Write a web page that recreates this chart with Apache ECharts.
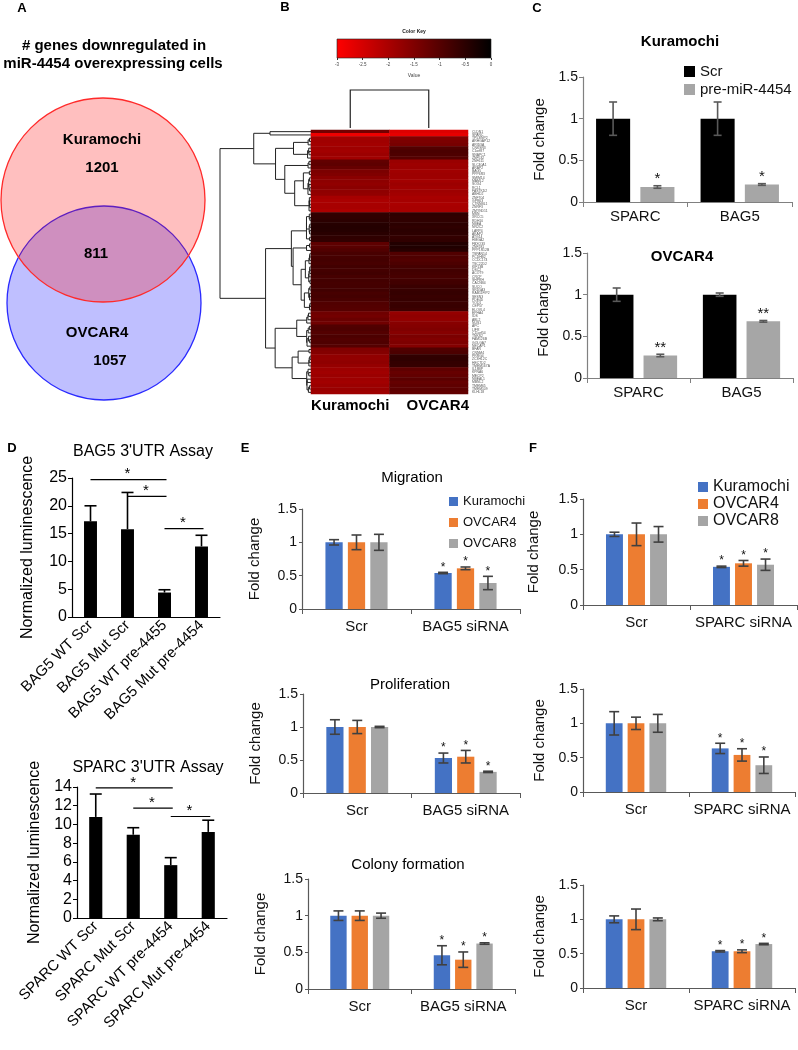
<!DOCTYPE html>
<html><head><meta charset="utf-8">
<script src="https://cdn.jsdelivr.net/npm/echarts@6/dist/echarts.min.js"></script>
<style>html,body{margin:0;padding:0;background:#fff}#c{width:798px;height:1050px}</style>
</head><body><div id="c"></div>
<script>
// ---------------- DATA ----------------
// Panel A (Venn)
const vennTitleLines = ['# genes downregulated in', 'miR-4454 overexpressing cells'];
const vennSetNames = ['Kuramochi', 'OVCAR4'];
const vennCounts = [1201, 811, 1057]; // Kuramochi only, shared, OVCAR4 only

// Panel B (heatmap)
const heatCols = ['Kuramochi', 'OVCAR4'];
const geneNames = ['CLDN1','SPARC','TP53INP2','ARHGAP12','ARID3A','CNKSR3','C1orf87','SNAPC1','ZNF532','ZNF611',
 'SLC40A1','ARAP2','BAG5','PPP6R3','SMIM14','MAML2','SOX4','RCL1','FASTKD2','ABHD2',
 'ZNF704','GPR63','CTNNBL1','ZNRF3','ZMYND11','MSN','XRCC5','RDH10','NBEA','NR2C2',
 'LARP4','AKAP2','ATG14','HMGA2','FBXO33','ZNF281','PPP1R12B','TSPAN14','PCDHB2','CCDC174',
 'TSC22D2','KIF13B','DSC2','ACOT9','CRCP','SHPRH','CACNB4','SUCO','SRD5A3','RAB11FIP2',
 'SESN3','PDE4D','YOD1','CEP57','ELOVL4','EPHA4','IDS','ABL2','NUS1','APC',
 'LIFR','C11orf54','TNKS2','FAM126B','GOLGA7','NECAP1','BFAR','CNNM4','PRRG4','ZC3H12C',
 'HECTD2','TMEM167A','IL18BP','KPNA6','MECP2','NBEAL1','MBNL2','TMEM65','TMEM109','KLHL18'];
const kuraHeat = [-1.35,-2.80,-1.90,-1.88,-1.92,-1.86,-1.90,-1.84,-1.88,-1.15,
 -1.10,-1.20,-1.45,-1.50,-1.62,-1.66,-1.70,-1.64,-1.68,-1.72,
 -1.95,-2.00,-1.98,-1.96,-2.02,-0.58,-0.55,-0.52,-0.45,-0.42,
 -0.44,-0.48,-0.55,-0.58,-1.10,-1.05,-0.95,-0.85,-0.82,-0.80,
 -0.84,-0.78,-0.80,-0.76,-0.82,-0.79,-0.81,-0.80,-0.77,-0.83,
 -0.80,-0.85,-0.95,-0.98,-1.00,-1.30,-1.35,-1.25,-1.32,-0.95,
 -0.92,-0.98,-0.90,-0.95,-0.93,-1.00,-1.50,-1.55,-1.70,-1.72,
 -1.68,-1.75,-1.85,-1.88,-1.82,-1.86,-1.90,-1.84,-1.80,-1.86];
const ovcarHeat = [-2.60,-2.70,-1.50,-1.45,-1.40,-0.95,-0.88,-0.92,-1.00,-1.80,
 -1.85,-1.82,-1.88,-1.85,-1.86,-1.90,-1.84,-1.88,-1.86,-1.90,
 -1.98,-1.95,-2.00,-1.96,-1.98,-0.55,-0.58,-0.56,-0.52,-0.55,
 -0.50,-0.53,-0.60,-0.56,-0.40,-0.38,-0.45,-0.95,-0.92,-0.96,
 -0.90,-0.82,-0.78,-0.80,-0.84,-0.79,-0.76,-0.68,-0.65,-0.62,
 -0.66,-0.64,-0.68,-0.66,-0.70,-1.75,-1.68,-1.72,-1.60,-1.55,
 -1.50,-1.58,-1.45,-1.52,-1.48,-1.55,-0.95,-0.90,-0.58,-0.55,
 -0.60,-0.62,-1.10,-1.20,-1.15,-1.05,-1.18,-1.12,-1.08,-1.15];
const colorKeyRange = [-3, 0];

// Panel C (qPCR)
const cCats = ['SPARC', 'BAG5'];
const cGroups = ['Scr', 'pre-miR-4454'];
const kuraScr = [1.00, 1.00], kuraScrErr = [0.20, 0.20];
const kuraPre = [0.18, 0.21], kuraPreErr = [0.015, 0.01];
const kuraStars = ['*', '*'];
const ovcScr = [1.00, 1.00], ovcScrErr = [0.08, 0.02];
const ovcPre = [0.27, 0.68], ovcPreErr = [0.015, 0.01];
const ovcStars = ['**', '**'];

// Panel D (3'UTR luciferase)
const bagCats = ['BAG5 WT Scr', 'BAG5 Mut Scr', 'BAG5 WT pre-4455', 'BAG5 Mut pre-4454'];
const bagLum = [17.2, 15.8, 4.4, 12.7];
const bagLumErr = [2.8, 6.6, 0.5, 2.0];
const bagSig = [[0, 2, 24.7], [1, 2, 21.7], [2, 3, 15.9]];
const sparcCats = ['SPARC WT Scr', 'SPARC Mut Scr', 'SPARC WT pre-4454', 'SPARC Mut pre-4454'];
const sparcLum = [10.8, 8.9, 5.65, 9.2];
const sparcLumErr = [2.45, 0.75, 0.8, 1.25];
const sparcSig = [[0, 2, 13.9], [1, 2, 11.75], [2, 3, 10.85]];

// Panels E / F (functional assays) - rows: Kuramochi, OVCAR4, OVCAR8 ; cols: Scr, siRNA
const cellLines = ['Kuramochi', 'OVCAR4', 'OVCAR8'];
const eCats = ['Scr', 'BAG5 siRNA'];
const fCats = ['Scr', 'SPARC siRNA'];
const siStars = ['', '*'];
const migBag = [[1.00, 0.54], [1.00, 0.61], [1.00, 0.39]];
const migBagErr = [[0.04, 0.01], [0.11, 0.02], [0.12, 0.10]];
const proBag = [[1.00, 0.53], [1.00, 0.55], [1.00, 0.32]];
const proBagErr = [[0.11, 0.075], [0.10, 0.095], [0.01, 0.01]];
const colBag = [[1.00, 0.46], [1.00, 0.40], [1.00, 0.62]];
const colBagErr = [[0.065, 0.13], [0.065, 0.105], [0.035, 0.01]];
const migSparc = [[1.00, 0.54], [1.00, 0.59], [1.00, 0.57]];
const migSparcErr = [[0.03, 0.01], [0.16, 0.04], [0.11, 0.08]];
const proSparc = [[1.00, 0.635], [1.00, 0.54], [1.00, 0.39]];
const proSparcErr = [[0.17, 0.075], [0.09, 0.09], [0.13, 0.12]];
const colSparc = [[1.00, 0.535], [1.00, 0.535], [1.00, 0.64]];
const colSparcErr = [[0.05, 0.01], [0.15, 0.02], [0.02, 0.01]];

// ---------------- BUILD ----------------
const FONT = '"Liberation Sans", Arial, Helvetica, sans-serif';
const grids = [], xAxes = [], yAxes = [], series = [], graphics = [], legends = [];
function addGrid(r) { grids.push({left: r.left, top: r.top, width: r.width, height: r.height}); return grids.length - 1; }
function txt(text, x, y, size, bold, align, color) {
  graphics.push({type: 'text', silent: true, z: 10, style: {text: String(text), x: x, y: y,
    font: (bold ? 'bold ' : '') + size + 'px ' + FONT, fill: color || '#000',
    textAlign: align || 'center', align: align || 'center', textVerticalAlign: 'middle', verticalAlign: 'middle'}});
}

function makeErr(n, i, catGap, barGap, cap, color, oneSided, stars, starFs) {
  return function (params, api) {
    const cat = api.value(0), v = api.value(1), e = api.value(2);
    const band = api.size([1, 0])[0];
    const w = band * (1 - catGap) / (n + (n - 1) * barGap);
    const total = n * w + (n - 1) * barGap * w;
    const x = api.coord([cat, v])[0] - total / 2 + w / 2 + i * w * (1 + barGap);
    const yT = api.coord([cat, v + e])[1];
    const yB = oneSided ? api.coord([cat, v])[1] : api.coord([cat, v - e])[1];
    const st = {stroke: color, lineWidth: 1.6};
    const ch = [
      {type: 'line', shape: {x1: x, y1: yT, x2: x, y2: yB}, style: st},
      {type: 'line', shape: {x1: x - cap, y1: yT, x2: x + cap, y2: yT}, style: st}
    ];
    if (!oneSided) ch.push({type: 'line', shape: {x1: x - cap, y1: yB, x2: x + cap, y2: yB}, style: st});
    const s = stars && stars[params.dataIndex];
    if (s) ch.push({type: 'text', style: {text: s, x: x, y: yT + 1, textAlign: 'center', align: 'center',
      textVerticalAlign: 'bottom', verticalAlign: 'bottom', font: starFs + 'px ' + FONT, fill: '#111'}});
    return {type: 'group', children: ch};
  };
}

function barPanel(cfg) {
  const g = addGrid(cfg.rect);
  xAxes.push({type: 'category', gridIndex: g, data: cfg.cats,
    axisLine: {show: true, lineStyle: {color: cfg.axisColor, width: 1.2}},
    axisTick: {show: cfg.xTicks, length: 5, lineStyle: {color: cfg.axisColor}},
    axisLabel: {interval: 0, fontSize: cfg.xfs, color: cfg.textColor, fontFamily: FONT, margin: cfg.xMargin, rotate: cfg.rotate || 0},
    splitLine: {show: false}});
  yAxes.push({type: 'value', gridIndex: g, min: 0, max: cfg.max, interval: cfg.interval,
    axisLine: {show: true, lineStyle: {color: cfg.axisColor, width: 1.2}},
    axisTick: {show: true, length: cfg.yTickLen, lineStyle: {color: cfg.axisColor}},
    axisLabel: {fontSize: cfg.yfs, color: cfg.textColor, fontFamily: FONT, margin: 5},
    splitLine: {show: false},
    name: cfg.yName, nameLocation: 'middle', nameGap: cfg.nameGap,
    nameTextStyle: {fontSize: cfg.nameFs, color: cfg.textColor, fontFamily: FONT}});
  const n = cfg.series.length;
  cfg.series.forEach(function (s, i) {
    series.push({type: 'bar', name: s.name, xAxisIndex: g, yAxisIndex: g, data: s.values,
      barCategoryGap: (cfg.catGap * 100) + '%', barGap: (cfg.barGap * 100) + '%',
      itemStyle: {color: s.color}, silent: true, animation: false});
    series.push({type: 'custom', xAxisIndex: g, yAxisIndex: g, z: 5, silent: true, animation: false,
      data: s.values.map(function (v, k) { return [k, v, s.errs[k]]; }),
      renderItem: makeErr(n, i, cfg.catGap, cfg.barGap, cfg.cap, cfg.errColor, cfg.oneSided, s.stars, cfg.starFs)});
  });
  if (cfg.sig) {
    series.push({type: 'custom', xAxisIndex: g, yAxisIndex: g, z: 6, silent: true, animation: false, data: cfg.sig,
      renderItem: function (p, api) {
        const a = api.coord([api.value(0), api.value(2)]);
        const b = api.coord([api.value(1), api.value(2)]);
        return {type: 'group', children: [
          {type: 'line', shape: {x1: a[0], y1: a[1], x2: b[0] + 2, y2: b[1]}, style: {stroke: '#000', lineWidth: 1.2}},
          {type: 'text', style: {text: '*', x: (a[0] + b[0]) / 2, y: a[1] + 2, textAlign: 'center', align: 'center',
            textVerticalAlign: 'bottom', verticalAlign: 'bottom', font: '15px ' + FONT, fill: '#000'}}
        ]};
      }});
  }
  return g;
}

// ---- Panel C
const cBase = {max: 1.5, interval: 0.5, cats: cCats, catGap: 0.25, barGap: 0.3, cap: 4, errColor: '#595959',
  axisColor: '#808080', textColor: '#111', xfs: 15, yfs: 14, nameFs: 15, yName: 'Fold change', nameGap: 36,
  xTicks: true, xMargin: 7, starFs: 15, yTickLen: 4};
barPanel(Object.assign({}, cBase, {rect: {left: 583, top: 77, width: 209, height: 125},
  series: [{name: cGroups[0], values: kuraScr, errs: kuraScrErr, color: '#000000'},
           {name: cGroups[1], values: kuraPre, errs: kuraPreErr, color: '#a6a6a6', stars: kuraStars}]}));
barPanel(Object.assign({}, cBase, {rect: {left: 587, top: 253, width: 206, height: 125},
  series: [{name: cGroups[0], values: ovcScr, errs: ovcScrErr, color: '#000000'},
           {name: cGroups[1], values: ovcPre, errs: ovcPreErr, color: '#a6a6a6', stars: ovcStars}]}));

// ---- Panel D
const dBase = {catGap: 0.65, barGap: 0, cap: 6, errColor: '#000', axisColor: '#000', textColor: '#000', xfs: 15, yfs: 16,
  nameFs: 16, yName: 'Normalized luminescence', xTicks: false, xMargin: 6, rotate: 45, oneSided: true, starFs: 14, yTickLen: 4};
barPanel(Object.assign({}, dBase, {rect: {left: 72, top: 478, width: 148, height: 139}, max: 25, interval: 5, cats: bagCats,
  nameGap: 36, sig: bagSig, series: [{name: "BAG5 3'UTR", values: bagLum, errs: bagLumErr, color: '#000'}]}));
barPanel(Object.assign({}, dBase, {rect: {left: 77, top: 787, width: 150, height: 131}, max: 14, interval: 2, cats: sparcCats,
  nameGap: 34, sig: sparcSig, series: [{name: "SPARC 3'UTR", values: sparcLum, errs: sparcLumErr, color: '#000'}]}));

// ---- Panels E / F
const lineColors = ['#4472c4', '#ed7d31', '#a5a5a5'];
const efBase = {max: 1.5, interval: 0.5, catGap: 0.43, barGap: 0.3, cap: 5, errColor: '#404040', axisColor: '#595959',
  textColor: '#111', xfs: 15, yfs: 14, nameFs: 15, yName: 'Fold change', xTicks: true, xMargin: 10, starFs: 12, yTickLen: 3};
function efSeries(vals, errs) {
  return cellLines.map(function (name, i) { return {name: name, values: vals[i], errs: errs[i], color: lineColors[i], stars: siStars}; });
}
barPanel(Object.assign({}, efBase, {rect: {left: 302, top: 509, width: 218, height: 100}, cats: eCats, nameGap: 40, series: efSeries(migBag, migBagErr)}));
barPanel(Object.assign({}, efBase, {rect: {left: 303, top: 694, width: 217, height: 99}, cats: eCats, nameGap: 40, series: efSeries(proBag, proBagErr)}));
barPanel(Object.assign({}, efBase, {rect: {left: 308, top: 879, width: 207, height: 110}, cats: eCats, nameGap: 40, series: efSeries(colBag, colBagErr)}));
barPanel(Object.assign({}, efBase, {rect: {left: 583, top: 499, width: 214, height: 106}, cats: fCats, nameGap: 42, series: efSeries(migSparc, migSparcErr)}));
barPanel(Object.assign({}, efBase, {rect: {left: 583, top: 689, width: 212, height: 103}, cats: fCats, nameGap: 36, series: efSeries(proSparc, proSparcErr)}));
barPanel(Object.assign({}, efBase, {rect: {left: 583, top: 885, width: 212, height: 103}, cats: fCats, nameGap: 36, series: efSeries(colSparc, colSparcErr)}));

// ---- Panel B : heatmap
const gH = addGrid({left: 311, top: 130, width: 157, height: 264});
xAxes.push({type: 'category', gridIndex: gH, data: heatCols, axisLine: {show: false}, axisTick: {show: false},
  axisLabel: {interval: 0, hideOverlap: false, fontSize: 15, fontWeight: 'bold', color: '#000', fontFamily: FONT, margin: 4,
    formatter: function (v, i) { return i === 1 ? '{r|' + v + '}' : v; },
    rich: {r: {fontSize: 15, fontWeight: 'bold', color: '#000', fontFamily: FONT, padding: [0, 0, 0, 18]}}},
  splitLine: {show: false}});
yAxes.push({type: 'category', gridIndex: gH, data: geneNames, inverse: true, position: 'right',
  axisLine: {show: false}, axisTick: {show: false},
  axisLabel: {interval: 0, fontSize: 3.4, color: '#555', margin: 4, fontFamily: FONT}, splitLine: {show: false}});
const heatData = [];
geneNames.forEach(function (g, r) { heatData.push([0, r, kuraHeat[r]]); heatData.push([1, r, ovcarHeat[r]]); });
series.push({type: 'heatmap', xAxisIndex: gH, yAxisIndex: gH, data: heatData, silent: true, animation: false});
const heatSeriesIndex = series.length - 1;

// row dendrogram (complete linkage, order-constrained)
const rowVecs = kuraHeat.map(function (k, i) { return [k, ovcarHeat[i]]; });
function dist(a, b) { let s = 0; for (let i = 0; i < a.length; i++) { const d = a[i] - b[i]; s += d * d; } return Math.sqrt(s); }
let clusters = rowVecs.map(function (v, i) { return {m: [i], pos: i, h: 0}; });
const links = [];
while (clusters.length > 1) {
  let best = -1, bd = Infinity;
  for (let j = 0; j < clusters.length - 1; j++) {
    let d = 0;
    for (const a of clusters[j].m) for (const b of clusters[j + 1].m) d = Math.max(d, dist(rowVecs[a], rowVecs[b]));
    if (d < bd) { bd = d; best = j; }
  }
  const A = clusters[best], B = clusters[best + 1];
  const h = Math.max(bd, A.h, B.h);
  links.push([A.pos, B.pos, h, A.h, B.h]);
  clusters.splice(best, 2, {m: A.m.concat(B.m), pos: (A.pos + B.pos) / 2, h: h});
}
const rootH = clusters[0].h;
const gD = addGrid({left: 220, top: 130, width: 91, height: 264});
xAxes.push({type: 'value', gridIndex: gD, min: 0, max: rootH, inverse: true, show: false});
yAxes.push({type: 'value', gridIndex: gD, min: -0.5, max: geneNames.length - 0.5, inverse: true, show: false});
series.push({type: 'custom', xAxisIndex: gD, yAxisIndex: gD, data: links, silent: true, animation: false,
  renderItem: function (p, api) {
    const a = api.value(0), b = api.value(1), h = api.value(2), ha = api.value(3), hb = api.value(4);
    return {type: 'polyline', shape: {points: [api.coord([ha, a]), api.coord([h, a]), api.coord([h, b]), api.coord([hb, b])]},
      style: {stroke: '#222', lineWidth: 1, fill: null}};
  }});
// column dendrogram
const colH = dist(kuraHeat, ovcarHeat);
const gCD = addGrid({left: 311, top: 90, width: 157, height: 38});
xAxes.push({type: 'value', gridIndex: gCD, min: -0.5, max: 1.5, show: false});
yAxes.push({type: 'value', gridIndex: gCD, min: 0, max: colH, show: false});
series.push({type: 'custom', xAxisIndex: gCD, yAxisIndex: gCD, data: [[0, 1, colH]], silent: true, animation: false,
  renderItem: function (p, api) {
    const a = api.value(0), b = api.value(1), h = api.value(2);
    return {type: 'polyline', shape: {points: [api.coord([a, 0]), api.coord([a, h]), api.coord([b, h]), api.coord([b, 0])]},
      style: {stroke: '#222', lineWidth: 1.2, fill: null}};
  }});
// color key
const gK = addGrid({left: 337, top: 39, width: 154, height: 19});
xAxes.push({type: 'value', gridIndex: gK, min: colorKeyRange[0], max: colorKeyRange[1], interval: 0.5,
  axisLine: {show: false}, axisTick: {show: true, length: 2, lineStyle: {color: '#333'}},
  axisLabel: {fontSize: 4.5, color: '#444', margin: 4, fontFamily: FONT}, splitLine: {show: false},
  name: 'Value', nameLocation: 'middle', nameGap: 15, nameTextStyle: {fontSize: 5, color: '#444', fontFamily: FONT}});
yAxes.push({type: 'value', gridIndex: gK, min: 0, max: 1, show: false});
series.push({type: 'custom', xAxisIndex: gK, yAxisIndex: gK, data: [[colorKeyRange[0], colorKeyRange[1]]], silent: true, animation: false,
  renderItem: function (p, api) {
    const a = api.coord([api.value(0), 1]), b = api.coord([api.value(1), 0]);
    return {type: 'rect', shape: {x: a[0], y: a[1], width: b[0] - a[0], height: b[1] - a[1]},
      style: {fill: new echarts.graphic.LinearGradient(0, 0, 1, 0, [{offset: 0, color: '#ff0000'}, {offset: 1, color: '#000000'}]),
        stroke: '#222', lineWidth: 0.6}};
  }});

// ---- Panel A : Venn
graphics.push({type: 'circle', silent: true, z: 1, shape: {cx: 104, cy: 303, r: 97},
  style: {fill: 'rgba(0,0,255,0.25)', stroke: '#2a2aff', lineWidth: 1.3}});
graphics.push({type: 'circle', silent: true, z: 2, shape: {cx: 103, cy: 200, r: 102},
  style: {fill: 'rgba(255,0,0,0.25)', stroke: '#ff2a2a', lineWidth: 1.3}});
txt(vennTitleLines[0], 114, 46, 15, true);
txt(vennTitleLines[1], 113, 64, 15, true);
txt(vennSetNames[0], 102, 140, 15, true);
txt(vennCounts[0], 102, 168, 15, true);
txt(vennCounts[1], 96, 254, 15, true);
txt(vennSetNames[1], 97, 333, 15, true);
txt(vennCounts[2], 110, 361, 15, true);

// ---- titles & letters
txt('A', 22, 8, 13, true); txt('B', 285, 7, 13, true); txt('C', 537, 8, 13, true);
txt('D', 12, 448, 13, true); txt('E', 245, 448, 13, true); txt('F', 533, 448, 13, true);
txt('Color Key', 414, 32, 5, true, 'center', '#222');
txt('Kuramochi', 680, 42, 15, true); txt('OVCAR4', 682, 257, 15, true);
txt("BAG5 3'UTR Assay", 143, 452, 16, false); txt("SPARC 3'UTR Assay", 148, 768, 16, false);
txt('Migration', 412, 478, 15, false); txt('Proliferation', 410, 685, 15, false); txt('Colony formation', 408, 865, 15, false);

// ---- legends
legends.push({data: cGroups, left: 679, top: 59, orient: 'vertical', icon: 'rect', itemWidth: 11, itemHeight: 11, itemGap: 3,
  selectedMode: false, textStyle: {fontSize: 15, color: '#111', fontFamily: FONT}});
legends.push({data: cellLines, left: 444, top: 490, orient: 'vertical', icon: 'rect', itemWidth: 9, itemHeight: 9, itemGap: 8,
  selectedMode: false, textStyle: {fontSize: 13, color: '#111', fontFamily: FONT}});
legends.push({data: cellLines, left: 693, top: 474, orient: 'vertical', icon: 'rect', itemWidth: 10, itemHeight: 10, itemGap: 1,
  selectedMode: false, textStyle: {fontSize: 16, color: '#111', fontFamily: FONT}});

const chart = echarts.init(document.getElementById('c'), null, {renderer: 'canvas'});
chart.setOption({
  animation: false,
  backgroundColor: '#ffffff',
  textStyle: {fontFamily: FONT},
  grid: grids, xAxis: xAxes, yAxis: yAxes, series: series, legend: legends,
  visualMap: [{type: 'continuous', show: false, min: colorKeyRange[0], max: colorKeyRange[1], seriesIndex: [heatSeriesIndex],
    inRange: {color: ['#ff0000', '#000000']}}],
  graphic: graphics
});
</script></body></html>
